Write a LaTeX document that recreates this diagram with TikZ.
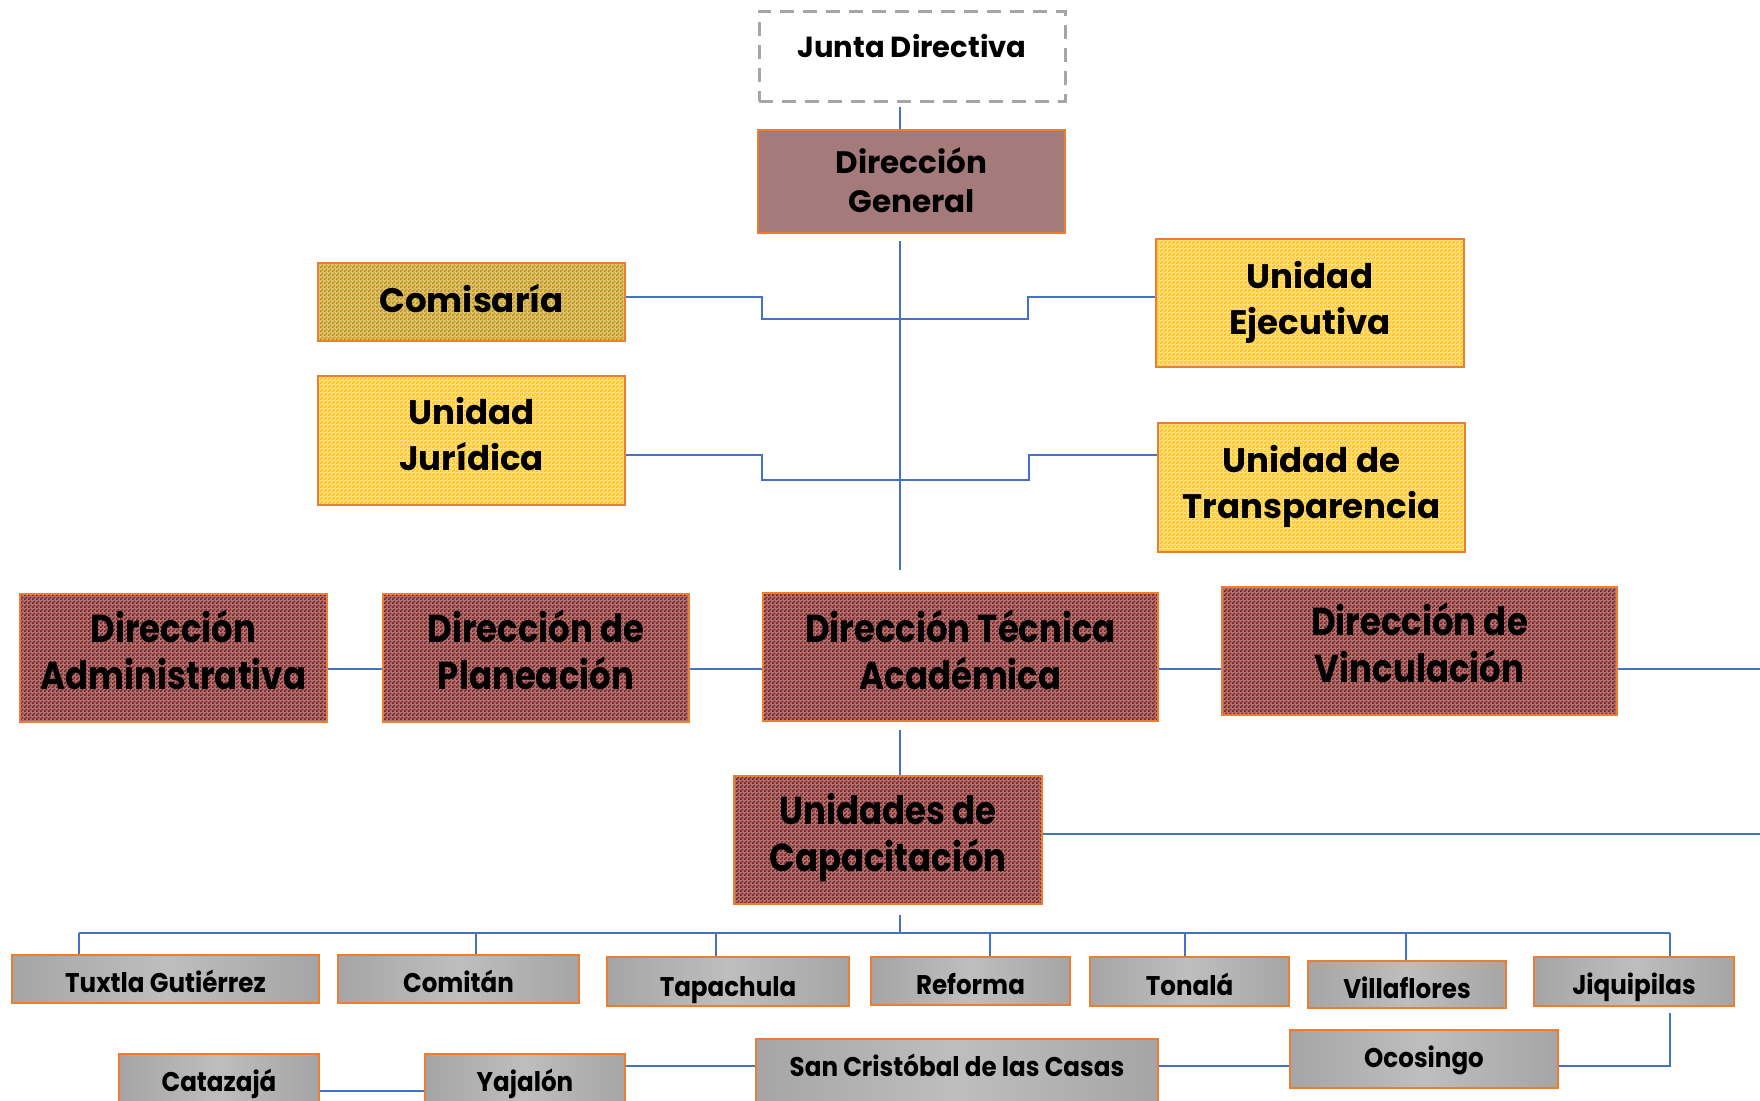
\documentclass[tikz,border=0pt]{standalone}
\usepackage{fontspec}
\setmainfont{Poppins}
\newfontfamily\condfont[FakeStretch=0.87]{Poppins}
\newfontfamily\bottomfont[FakeStretch=0.91]{Poppins}
\usetikzlibrary{patterns}
\pgfdeclarepatternformonly{finecheck}{\pgfpointorigin}{\pgfqpoint{4pt}{4pt}}{\pgfqpoint{4pt}{4pt}}{%
  \pgfpathrectangle{\pgfpointorigin}{\pgfqpoint{2pt}{2pt}}%
  \pgfpathrectangle{\pgfqpoint{2pt}{2pt}}{\pgfqpoint{2pt}{2pt}}%
  \pgfusepath{fill}}
\definecolor{lineblue}{HTML}{4472C4}
\definecolor{borange}{HTML}{ED7D31}
\definecolor{dgfill}{HTML}{A57A7A}
\definecolor{checkmaroon}{HTML}{7A1616}
\definecolor{checkgold}{HTML}{FFC000}
\definecolor{checkolive}{HTML}{BF8F00}
\definecolor{jdgray}{HTML}{A6A6A6}
\definecolor{mA}{HTML}{DDDDDD}
\definecolor{mB}{HTML}{686868}
\definecolor{mC}{HTML}{A2A2A2}
\definecolor{mD}{HTML}{BEBEBE}
\pgfdeclarehorizontalshading{metal}{100bp}{color(0bp)=(mA); color(1.5bp)=(mD); color(7bp)=(mB); color(22bp)=(mC); color(50bp)=(mD); color(78bp)=(mC); color(93bp)=(mB); color(98.5bp)=(mD); color(100bp)=(mA)}
\newcommand{\lift}[2]{\raisebox{#1}[\height][\depth]{\begin{tabular}{@{}c@{}}#2\end{tabular}}}
\begin{document}
\begin{tikzpicture}[x=1pt,y=-1pt,
  box/.style={draw=borange, line width=1.5pt, inner sep=0pt, text=black},
  jdbox/.style={draw=jdgray, line width=3pt, dash pattern=on 14pt off 9pt, inner sep=0pt, font=\bfseries\fontsize{29}{36}\selectfont},
  dgbox/.style={box, fill=dgfill, font=\bfseries\fontsize{31}{39}\selectfont},
  unitbox/.style={box, preaction={fill=checkgold!50!white}, pattern=finecheck, pattern color=checkgold, font=\bfseries\fontsize{34}{46}\selectfont},
  combox/.style={box, preaction={fill=checkolive!55!white}, pattern=finecheck, pattern color=checkolive, font=\bfseries\fontsize{34}{46}\selectfont},
  dirbox/.style={box, preaction={fill=checkmaroon!60!white}, pattern=finecheck, pattern color=checkmaroon, font=\condfont\bfseries\fontsize{39}{47}\selectfont},
  metalbox/.style={box, shading=metal, font=\bottomfont\bfseries\fontsize{27}{33}\selectfont},
  conn/.style={draw=lineblue, line width=1.5pt}]
\useasboundingbox (0,0) rectangle (1760,1100);
\clip (0,0) rectangle (1760,1100);
\fill[white] (0,0) rectangle (1760,1100);

% helper coordinates
\coordinate (y297) at (0,297);
\coordinate (y455) at (0,455);
\coordinate (y669) at (0,669);
\coordinate (y834) at (0,834);
\coordinate (y1066) at (0,1066);
\coordinate (y1091) at (0,1091);
\coordinate (c1) at (762,319);
\coordinate (c2) at (1028,319);
\coordinate (c3) at (762,480);
\coordinate (c4) at (1029,480);
\coordinate (jdl) at (900,107);
\coordinate (mv1) at (900,241);
\coordinate (mv2) at (900,570);
\coordinate (t1) at (900,730);
\coordinate (u1) at (900,915);
\coordinate (u2) at (900,933);
\coordinate (re669) at (1760,669);
\coordinate (re834) at (1760,834);
\coordinate (b1) at (79,933);
\coordinate (b2) at (476,933);
\coordinate (b3) at (716,933);
\coordinate (b4) at (990,933);
\coordinate (b5) at (1185,933);
\coordinate (b6) at (1406,933);
\coordinate (b7) at (1670,933);
\coordinate (j1) at (1670,1013);

% nodes
\node[jdbox, minimum width=306pt, minimum height=90pt] (JD) at (912,56) {\lift{6pt}{Junta Directiva}};
\node[dgbox, minimum width=307pt, minimum height=103pt] (DG) at (911.5,181.5) {\lift{-4pt}{Dirección\\General}};
\node[combox, minimum width=307pt, minimum height=78pt] (COM) at (471.5,302) {\lift{-1pt}{Comisaría}};
\node[unitbox, minimum width=307pt, minimum height=129pt] (JUR) at (471.5,440.5) {\lift{2pt}{Unidad\\Jurídica}};
\node[unitbox, minimum width=308pt, minimum height=128pt] (UE) at (1310,303) {\lift{1pt}{Unidad\\Ejecutiva}};
\node[unitbox, minimum width=307pt, minimum height=129pt] (UT) at (1311.5,487.5) {\lift{1pt}{Unidad de\\Transparencia}};

\node[dirbox, minimum width=307pt, minimum height=128pt] (ADM) at (173.5,658) {\lift{1pt}{Dirección\\Administrativa}};
\node[dirbox, minimum width=306pt, minimum height=128pt] (PLA) at (536,658) {\lift{1pt}{Dirección de\\Planeación}};
\node[dirbox, minimum width=395pt, minimum height=128pt] (TEC) at (960.5,657) {\lift{0pt}{Dirección Técnica\\Académica}};
\node[dirbox, minimum width=395pt, minimum height=128pt] (VIN) at (1419.5,651) {\lift{1pt}{Dirección de\\Vinculación}};
\node[dirbox, minimum width=308pt, minimum height=128pt] (UC) at (888,840) {\lift{1pt}{Unidades de\\Capacitación}};

\node[metalbox, minimum width=307pt, minimum height=48pt] (TUX) at (165.5,979) {\lift{-7pt}{Tuxtla Gutiérrez}};
\node[metalbox, minimum width=241pt, minimum height=48pt] (COMI) at (458.5,979) {\lift{-7pt}{Comitán}};
\node[metalbox, minimum width=242pt, minimum height=49pt] (TAP) at (728,981.5) {\lift{-8pt}{Tapachula}};
\node[metalbox, minimum width=199pt, minimum height=48pt] (REF) at (970.5,981) {\lift{-7pt}{Reforma}};
\node[metalbox, minimum width=199pt, minimum height=49pt] (TON) at (1189.5,981.5) {\lift{-7pt}{Tonalá}};
\node[metalbox, minimum width=198pt, minimum height=47pt] (VIL) at (1407,984.5) {\lift{-7pt}{Villaflores}};
\node[metalbox, minimum width=200pt, minimum height=49pt] (JIQ) at (1634,981.5) {\lift{-6pt}{Jiquipilas}};

\node[metalbox, minimum width=200pt, minimum height=80pt, anchor=north] (CAT) at (219,1053) {\lift{9pt}{Catazajá}};
\node[metalbox, minimum width=200pt, minimum height=80pt, anchor=north] (YAJ) at (525,1053) {\lift{9pt}{Yajalón}};
\node[metalbox, minimum width=402pt, minimum height=90pt, anchor=north] (SC) at (957,1038) {\lift{14pt}{San Cristóbal de las Casas}};
\node[metalbox, minimum width=268pt, minimum height=58pt] (OCO) at (1424,1059) {\lift{-2pt}{Ocosingo}};

% connectors
\draw[conn] (jdl) -- (jdl |- DG.north);
\draw[conn] (mv1) -- (mv2);
\draw[conn] (COM.east |- y297) -| (c1) -- (c2) |- (UE.west |- y297);
\draw[conn] (JUR.east |- y455) -| (c3) -- (c4) |- (UT.west |- y455);
\draw[conn] (ADM.east |- y669) -- (PLA.west |- y669);
\draw[conn] (PLA.east |- y669) -- (TEC.west |- y669);
\draw[conn] (TEC.east |- y669) -- (VIN.west |- y669);
\draw[conn] (VIN.east |- y669) -- (re669);
\draw[conn] (t1) -- (t1 |- UC.north);
\draw[conn] (UC.east |- y834) -- (re834);
\draw[conn] (u1) -- (u2);
\draw[conn] (b1) -- (b7);
\draw[conn] (b1) -- (b1 |- TUX.north);
\draw[conn] (b2) -- (b2 |- COMI.north);
\draw[conn] (b3) -- (b3 |- TAP.north);
\draw[conn] (b4) -- (b4 |- REF.north);
\draw[conn] (b5) -- (b5 |- TON.north);
\draw[conn] (b6) -- (b6 |- VIL.north);
\draw[conn] (b7) -- (b7 |- JIQ.north);
\draw[conn] (CAT.east |- y1091) -- (YAJ.west |- y1091);
\draw[conn] (YAJ.east |- y1066) -- (SC.west |- y1066);
\draw[conn] (SC.east |- y1066) -- (OCO.west |- y1066);
\draw[conn] (OCO.east |- y1066) -| (j1);
\end{tikzpicture}
\end{document}
